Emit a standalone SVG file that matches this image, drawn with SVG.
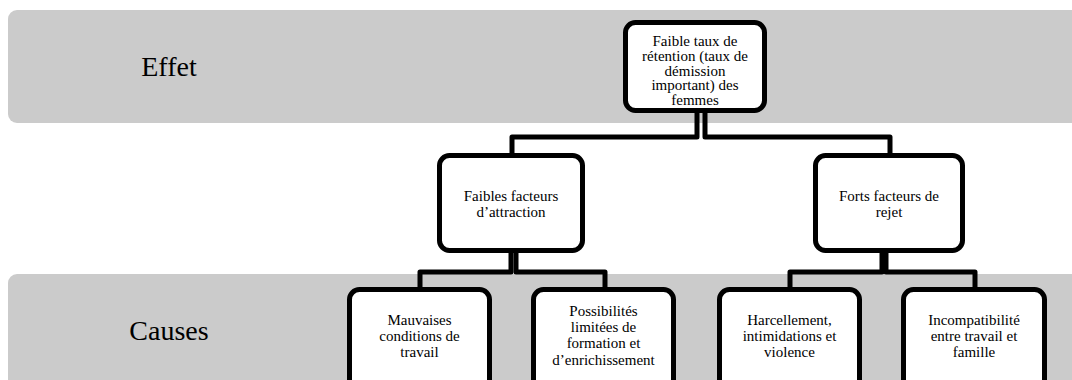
<svg xmlns="http://www.w3.org/2000/svg" width="1072" height="380" viewBox="0 0 1072 380">
  <style>
    .band { fill: #cbcbcb; }
    .box { fill: #ffffff; stroke: #000000; stroke-width: 5; }
    .conn { fill: none; stroke: #000000; stroke-width: 5; stroke-linejoin: round; }
    text { font-family: 'Liberation Serif', 'DejaVu Serif', serif; fill: #000000; text-anchor: middle; }
    .lbl { font-size: 15px; }
    .bandlbl { font-size: 28px; }
  </style>
  <g id="band-effet">
    <rect class="band" x="8" y="10" width="1080" height="113" rx="9"/>
    <text class="bandlbl" x="169" y="76">Effet</text>
  </g>
  <g id="band-causes">
    <rect class="band" x="8" y="274" width="1080" height="120" rx="9"/>
    <text class="bandlbl" x="169" y="340">Causes</text>
  </g>
  <g id="connectors">
    <path class="conn" d="M697,110 V137 H512 V156"/>
    <path class="conn" d="M705,110 V137 H890 V156"/>
    <path class="conn" d="M511,250 V272 H420 V290"/>
    <path class="conn" d="M516,250 V272 H605 V290"/>
    <path class="conn" d="M882,250 V272 H790 V290"/>
    <path class="conn" d="M886,250 V272 H975 V290"/>
  </g>
  <g id="node-effet">
    <rect class="box" x="625.5" y="22.5" width="139" height="88" rx="10"/>
    <text class="lbl" x="695" y="45.5">Faible taux de</text>
    <text class="lbl" x="695" y="60.5">rétention (taux de</text>
    <text class="lbl" x="695" y="75.5">démission</text>
    <text class="lbl" x="695" y="90">important) des</text>
    <text class="lbl" x="695" y="104.5">femmes</text>
  </g>
  <g id="node-attraction">
    <rect class="box" x="439.5" y="155.5" width="143" height="95" rx="10"/>
    <text class="lbl" x="511" y="201">Faibles facteurs</text>
    <text class="lbl" x="511" y="217">d’attraction</text>
  </g>
  <g id="node-rejet">
    <rect class="box" x="815.5" y="155.5" width="147" height="95" rx="10"/>
    <text class="lbl" x="889" y="201">Forts facteurs de</text>
    <text class="lbl" x="889" y="217">rejet</text>
  </g>
  <g id="node-conditions">
    <rect class="box" x="349.5" y="289.5" width="140" height="110" rx="10"/>
    <text class="lbl" x="419.5" y="325">Mauvaises</text>
    <text class="lbl" x="419.5" y="341">conditions de</text>
    <text class="lbl" x="419.5" y="357">travail</text>
  </g>
  <g id="node-formation">
    <rect class="box" x="533.5" y="289.5" width="140" height="110" rx="10"/>
    <text class="lbl" x="603.5" y="316">Possibilités</text>
    <text class="lbl" x="603.5" y="332">limitées de</text>
    <text class="lbl" x="603.5" y="348">formation et</text>
    <text class="lbl" x="603.5" y="365">d’enrichissement</text>
  </g>
  <g id="node-harcelement">
    <rect class="box" x="719.5" y="289.5" width="140" height="110" rx="10"/>
    <text class="lbl" x="789.5" y="325">Harcellement,</text>
    <text class="lbl" x="789.5" y="341">intimidations et</text>
    <text class="lbl" x="789.5" y="357">violence</text>
  </g>
  <g id="node-famille">
    <rect class="box" x="903.5" y="289.5" width="141" height="110" rx="10"/>
    <text class="lbl" x="974" y="325">Incompatibilité</text>
    <text class="lbl" x="974" y="341">entre travail et</text>
    <text class="lbl" x="974" y="357">famille</text>
  </g>
</svg>
